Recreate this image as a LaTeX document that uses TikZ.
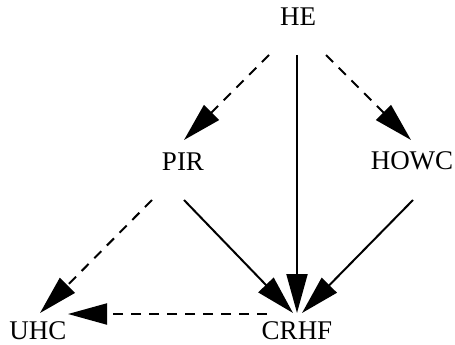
\documentclass[tikz,border=0pt]{standalone}
\usepackage{fontspec}
\setmainfont{Liberation Serif}
\usetikzlibrary{arrows.meta,calc}

\begin{document}
\begin{tikzpicture}[x=1pt,y=-1pt,
    lbl/.style={inner sep=0pt,font=\fontsize{27}{32}\selectfont},
    edge/.style={line width=2pt,-{Triangle[length=39pt,width=21pt]}},
    dedge/.style={edge,dash pattern=on 10pt off 8pt}]
    \useasboundingbox (0,0) rectangle (455,345);

    \node[lbl] (he) at (298,17) {HE};
    \node[lbl] (pir) at (183,162) {PIR};
    \node[lbl] (howc) at (412,161) {HOWC};
    \node[lbl] (uhc) at (38,331) {UHC};
    \node[lbl] (crhf) at (297,331) {CRHF};

    \draw[dedge] ($(he)+(-29,38)$) -- ($(pir)+(1,-22)$);
    \draw[edge] ($(he)+(-1,38)$) -- ($(crhf)+(0,-18)$);
    \draw[dedge] ($(he)+(28,38)$) -- ($(howc)+(-1,-21)$);
    \draw[dedge] ($(pir)+(-31,38)$) -- ($(uhc)+(2,-18)$);
    \draw[edge] ($(pir)+(1,38)$) -- ($(crhf)+(-4,-18)$);
    \draw[edge] ($(howc)+(1,39)$) -- ($(crhf)+(5,-18)$);
    \draw[dedge] ($(crhf)+(-30,-17)$) -- ($(uhc)+(30,-17)$);
\end{tikzpicture}
\end{document}
